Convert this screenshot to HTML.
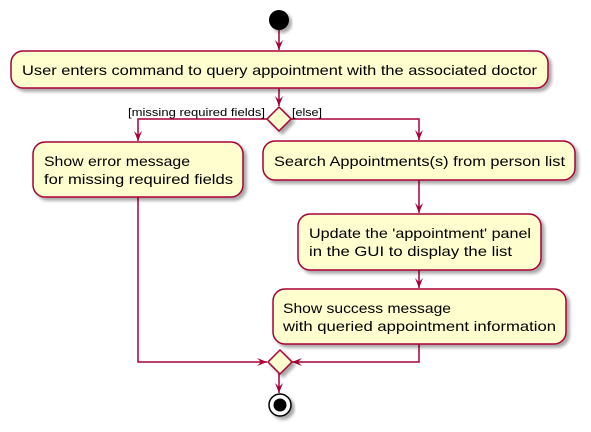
<!DOCTYPE html>
<html><head><meta charset="utf-8"><style>body{margin:0;background:#fff}svg{display:block}</style></head><body>
<svg width="591" height="432" viewBox="0 0 591 432" xmlns="http://www.w3.org/2000/svg" font-family="'Liberation Sans', 'DejaVu Sans', sans-serif">
<defs>
<filter id="sh" x="-10%" y="-10%" width="130%" height="150%"><feGaussianBlur in="SourceAlpha" stdDeviation="1.5"/><feOffset dx="3" dy="3"/><feComponentTransfer><feFuncA type="linear" slope="0.35"/></feComponentTransfer><feMerge><feMergeNode/><feMergeNode in="SourceGraphic"/></feMerge></filter>
</defs>
<g stroke="#A80036" stroke-width="1.5" fill="none">
<line x1="279" y1="30" x2="279" y2="50"/>
<line x1="279" y1="88" x2="279" y2="106"/>
<polyline points="267,119 138,119 138,141"/>
<polyline points="291,119 419,119 419,140"/>
<line x1="419" y1="180" x2="419" y2="213"/>
<line x1="419" y1="270" x2="419" y2="288"/>
<polyline points="138,197 138,362 267,362"/>
<polyline points="419,344 419,362 292,362"/>
<line x1="279" y1="373" x2="279" y2="393"/>
</g>
<g fill="#A80036">
<polygon points="275,40 279,50 283,40 279,44"/>
<polygon points="275,96 279,106 283,96 279,100"/>
<polygon points="134,131 138,141 142,131 138,135"/>
<polygon points="415,130 419,140 423,130 419,134"/>
<polygon points="415,203 419,213 423,203 419,207"/>
<polygon points="415,278 419,288 423,278 419,282"/>
<polygon points="257,358 267,362 257,366 261,362"/>
<polygon points="302,358 292,362 302,366 298,362"/>
<polygon points="275,383 279,393 283,383 279,387"/>
</g>
<circle cx="279" cy="20" r="10" fill="#000" filter="url(#sh)"/>
<g fill="#FEFECE" stroke="#A80036" stroke-width="1.5" filter="url(#sh)">
<rect x="11" y="51" width="537" height="37" rx="12"/>
<polygon points="279,107 291,119 279,131 267,119"/>
<rect x="33" y="142" width="210" height="55" rx="12"/>
<rect x="263" y="141" width="312" height="39" rx="12"/>
<rect x="298" y="214" width="243" height="56" rx="12"/>
<rect x="273" y="289" width="293" height="55" rx="12"/>
<polygon points="280,350 292,362 280,374 268,362"/>
</g>
<circle cx="280" cy="405" r="11" fill="#fff" stroke="#000" stroke-width="1.5" filter="url(#sh)"/>
<circle cx="280" cy="405" r="6.5" fill="#000"/>
<g fill="#000" font-size="14">
<text x="22" y="75" textLength="515" lengthAdjust="spacingAndGlyphs">User enters command to query appointment with the associated doctor</text>
<text x="44" y="166" textLength="146" lengthAdjust="spacingAndGlyphs">Show error message</text>
<text x="44" y="184" textLength="189" lengthAdjust="spacingAndGlyphs">for missing required fields</text>
<text x="274" y="166" textLength="291" lengthAdjust="spacingAndGlyphs">Search Appointments(s) from person list</text>
<text x="309" y="238" textLength="222" lengthAdjust="spacingAndGlyphs">Update the 'appointment' panel</text>
<text x="309" y="256" textLength="203" lengthAdjust="spacingAndGlyphs">in the GUI to display the list</text>
<text x="283" y="313" textLength="168" lengthAdjust="spacingAndGlyphs">Show success message</text>
<text x="283" y="331" textLength="273" lengthAdjust="spacingAndGlyphs">with queried appointment information</text>
</g>
<g fill="#000" font-size="11">
<text x="128" y="116" textLength="137" lengthAdjust="spacingAndGlyphs">[missing required fields]</text>
<text x="292" y="116" textLength="30" lengthAdjust="spacingAndGlyphs">[else]</text>
</g>
</svg>
</body></html>
